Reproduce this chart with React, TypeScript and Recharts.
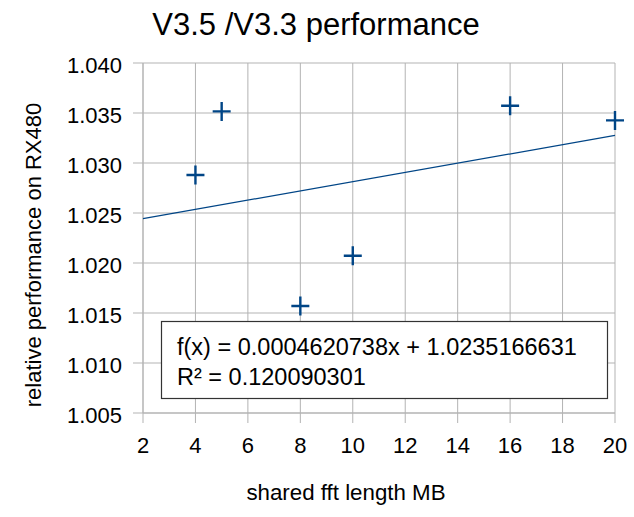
import React from "react";
import { ScatterChart, Scatter, XAxis, YAxis, CartesianGrid } from "recharts";

const fftLengthMB = [4, 5, 8, 10, 16, 20];
const relativePerf = [1.0288, 1.03516, 1.0157, 1.02073, 1.03573, 1.03426];
const trendX = [2, 20];
const trendY = [1.024441, 1.032758];
const xTicks = [2, 4, 6, 8, 10, 12, 14, 16, 18, 20];
const yTicks = [1.005, 1.01, 1.015, 1.02, 1.025, 1.03, 1.035, 1.04];

const title = "V3.5 /V3.3 performance";
const xLabel = "shared fft length MB";
const yLabel = "relative performance on RX480";
const eqLine1 = "f(x) = 0.0004620738x + 1.0235166631";
const eqLine2 = "R² = 0.120090301";

const points = fftLengthMB.map((x, i) => ({ x, y: relativePerf[i] }));
const trend = trendX.map((x, i) => ({ x, y: trendY[i] }));

const BLUE = "#004586";
const GRID = "#b3b3b3";
const FONT = "'Liberation Sans', Arial, sans-serif";

const Plus = (props: any) => {
  const { cx, cy } = props;
  if (cx == null || cy == null) return <g />;
  return (
    <path
      d={`M${cx - 9},${cy} H${cx + 9} M${cx},${cy - 9.5} V${cy + 9.5}`}
      stroke={BLUE}
      strokeWidth={2.4}
      fill="none"
    />
  );
};

const Empty = () => <g />;

const YTick = (props: any) => {
  const { x, y, payload } = props;
  return (
    <text x={x} y={y} dy={10} textAnchor="end" fontSize={22} fontFamily={FONT} fill="#000">
      {Number(payload.value).toFixed(3)}
    </text>
  );
};

const XTick = (props: any) => {
  const { x, y, payload } = props;
  return (
    <text x={x} y={y} dy={16} textAnchor="middle" fontSize={22} fontFamily={FONT} fill="#000">
      {payload.value}
    </text>
  );
};

export default function App() {
  return (
    <div style={{ position: "absolute", left: 0, top: 0, width: 634, height: 517, background: "#fff", fontFamily: FONT }}>
      <ScatterChart width={634} height={517} margin={{ top: 63, right: 19, bottom: 0, left: 0 }}>
        <CartesianGrid stroke={GRID} strokeWidth={1} />
        <XAxis
          type="number"
          dataKey="x"
          domain={[2, 20]}
          ticks={xTicks}
          height={104}
          stroke={GRID}
          tickSize={10}
          tickMargin={14}
          tick={XTick}
        />
        <YAxis
          type="number"
          dataKey="y"
          domain={[1.005, 1.04]}
          ticks={yTicks}
          width={143}
          stroke={GRID}
          tickSize={10}
          tickMargin={11}
          tick={YTick}
        />
        <Scatter
          data={trend}
          line={{ stroke: BLUE, strokeWidth: 1.2 }}
          shape={Empty}
          isAnimationActive={false}
        />
        <Scatter data={points} shape={Plus} isAnimationActive={false} />
      </ScatterChart>
      <svg
        width={634}
        height={517}
        style={{ position: "absolute", left: 0, top: 0, pointerEvents: "none" }}
      >
        <text x={316} y={35} textAnchor="middle" fontSize={31} fontFamily={FONT} fill="#000">
          {title}
        </text>
        <text x={346} y={500} textAnchor="middle" fontSize={22.3} fontFamily={FONT} fill="#000">
          {xLabel}
        </text>
        <text
          x={0}
          y={0}
          transform="translate(41,255) rotate(-90)"
          textAnchor="middle"
          fontSize={22}
          fontFamily={FONT}
          fill="#000"
        >
          {yLabel}
        </text>
        <rect x={161.5} y={321.5} width={446} height={77} fill="#fff" stroke="#333" strokeWidth={1.2} />
        <text x={177} y={355} fontSize={23.5} fontFamily={FONT} fill="#000">
          {eqLine1}
        </text>
        <text x={177} y={385} fontSize={23.5} fontFamily={FONT} fill="#000">
          {eqLine2}
        </text>
      </svg>
    </div>
  );
}
